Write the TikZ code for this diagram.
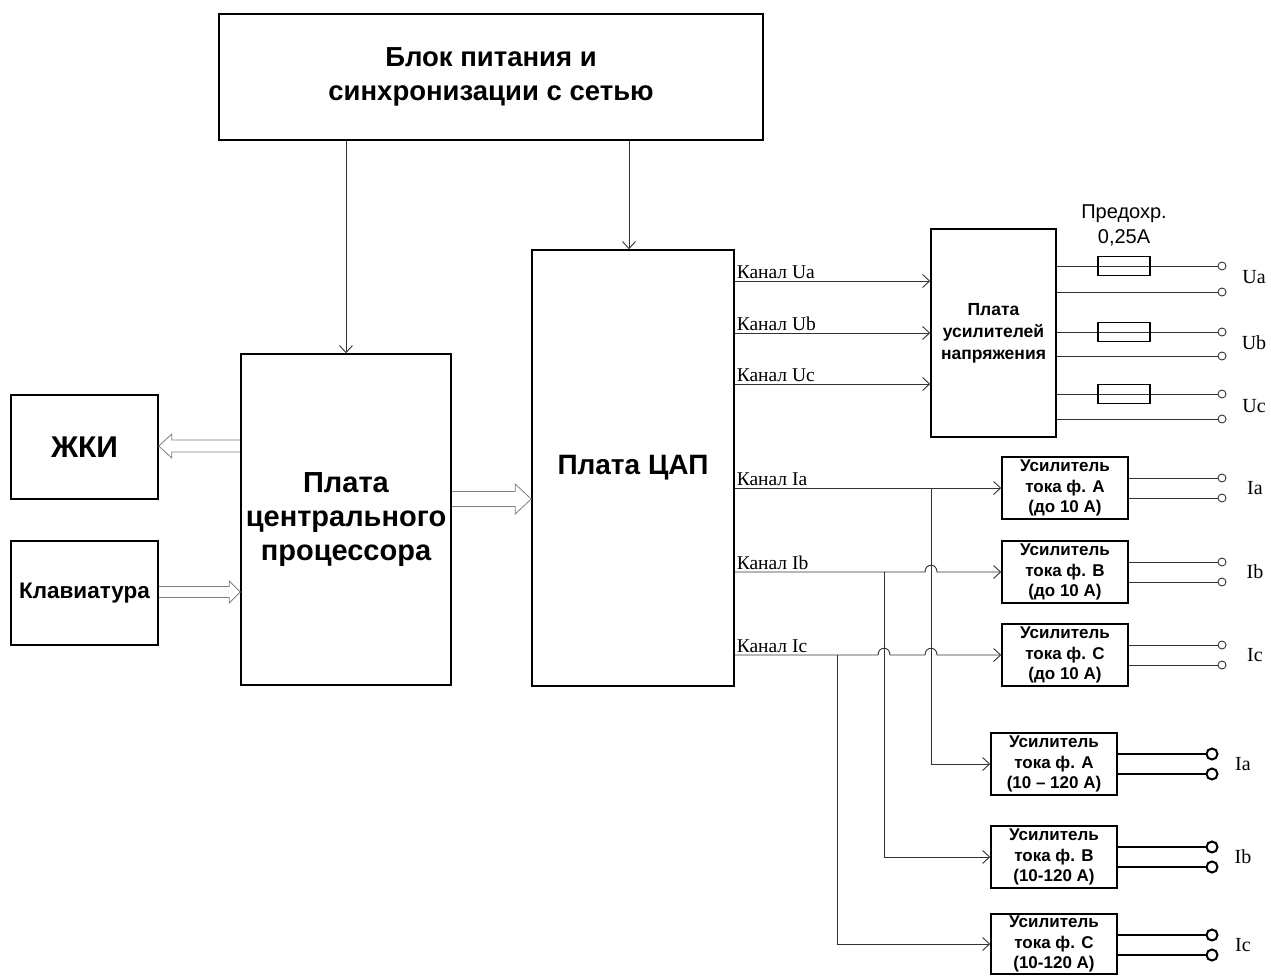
\documentclass[tikz,border=0pt]{standalone}
\usepackage{fontspec}
\setmainfont{Liberation Sans}
\newfontfamily\serfont{Liberation Serif}
\usetikzlibrary{arrows.meta,calc}
% hollow (double) arrow from #1 to #2; #3 shaft half width, #4 head half width, #5 head length
\newcommand\harrow[5]{%
  \draw[hol] let \p1=(#1), \p2=(#2), \p3=($(#2)!#5!(#1)$) in
    (\x1,\y1+#3) -- (\x3,\y1+#3) -- (\x3,\y1+#4) -- (\x2,\y1) --
    (\x3,\y1-#4) -- (\x3,\y1-#3) -- (\x1,\y1-#3);}
\begin{document}
\begin{tikzpicture}[x=1pt,y=-1pt,
  box/.style={draw, line width=1.6pt, inner sep=0pt, align=center},
  conn/.style={draw=black!80, line width=0.9pt},
  arr/.style={conn, -{Straight Barb[length=7pt,width=13pt,line width=0.9pt]}},
  hol/.style={draw=black!50, line width=0.8pt, line join=miter},
  term/.style={circle, draw=black!80, line width=0.9pt, fill=white, inner sep=0pt, minimum size=8pt},
  bterm/.style={circle, draw, line width=2pt, fill=white, inner sep=0pt, minimum size=11pt},
  fuse/.style={draw, line width=1.3pt, minimum width=52pt, minimum height=19pt, inner sep=0pt},
  chlab/.style={anchor=south west, inner sep=1.5pt, font=\serfont\fontsize{19.5}{21}\selectfont},
  outlab/.style={font=\serfont\fontsize{20}{22}\selectfont},
  amptext/.style={font=\fontsize{17}{20.5}\selectfont\bfseries}
]
\useasboundingbox (0,0) rectangle (1271,976);
\fill[white] (0,0) rectangle (1271,976);

% main boxes
\node[box, minimum width=544pt, minimum height=126pt, font=\fontsize{27.5}{34}\selectfont\bfseries] (pw) at (491,77) {Блок питания и\\синхронизации с сетью};
\node[box, minimum width=210pt, minimum height=331pt, font=\fontsize{29}{34}\selectfont\bfseries] (cpu) at (346,519.5) {Плата\\центрального\\процессора};
\node[box, minimum width=147pt, minimum height=104pt, font=\fontsize{30}{33}\selectfont\bfseries] (lcd) at (84.5,447) {ЖКИ};
\node[box, minimum width=147pt, minimum height=104pt, font=\fontsize{22.5}{24}\selectfont\bfseries] (kb) at (84.5,593) {Клавиатура};
\node[box, minimum width=202pt, minimum height=436pt, font=\fontsize{28}{33}\selectfont\bfseries] (dac) at (633,468) {Плата ЦАП};
\node[box, minimum width=125pt, minimum height=208pt, font=\fontsize{17.5}{22}\selectfont\bfseries] (vamp) at (993.5,333) {Плата\\усилителей\\напряжения};

% current amplifiers
\node[box, minimum width=126pt, minimum height=62pt, amptext] (a1) at (1065,488) {Усилитель\\тока ф. А\\(до 10 А)};
\node[box, minimum width=126pt, minimum height=62pt, amptext] (a2) at (1065,572) {Усилитель\\тока ф. В\\(до 10 А)};
\node[box, minimum width=126pt, minimum height=62pt, amptext] (a3) at (1065,655) {Усилитель\\тока ф. С\\(до 10 А)};
\node[box, minimum width=126pt, minimum height=62pt, amptext] (b1) at (1054,764) {Усилитель\\тока ф. А\\(10 – 120 А)};
\node[box, minimum width=126pt, minimum height=62pt, amptext] (b2) at (1054,857) {Усилитель\\тока ф. В\\(10-120 А)};
\node[box, minimum width=126pt, minimum height=60pt, amptext] (b3) at (1054,944) {Усилитель\\тока ф. С\\(10-120 А)};

% power arrows
\draw[arr] (pw.south -| cpu.north) -- (cpu.north);
\coordinate (pd) at (629,0);
\draw[arr] (pw.south -| pd) -- (dac.north -| pd);

% hollow arrows
\coordinate (cl) at (0,446);
\coordinate (ck) at (0,592);
\coordinate (cd) at (0,499);
\harrow{cpu.west |- cl}{lcd.east |- cl}{6pt}{12pt}{13pt}
\harrow{kb.east |- ck}{cpu.west |- ck}{5.5pt}{11pt}{11pt}
\harrow{cpu.east |- cd}{dac.west |- cd}{7.5pt}{15pt}{16pt}

% voltage channels
\coordinate (cUa) at (0,281);
\coordinate (cUb) at (0,333);
\coordinate (cUc) at (0,384);
\draw[arr] (dac.east |- cUa) node[chlab]{Канал Ua} -- (vamp.west |- cUa);
\draw[arr] (dac.east |- cUb) node[chlab]{Канал Ub} -- (vamp.west |- cUb);
\draw[arr] (dac.east |- cUc) node[chlab]{Канал Uc} -- (vamp.west |- cUc);

% current channels
\coordinate (jA) at (931,0);
\coordinate (jB) at (884,0);
\coordinate (jC) at (837,0);
\draw[arr] (a1.west -| dac.east) node[chlab]{Канал Ia} -- (a1.west);
\draw[arr] (a2.west -| dac.east) node[chlab]{Канал Ib} -- (925,572) .. controls (925,563) and (937,563) .. (937,572) -- (a2.west);
\draw[arr] (a3.west -| dac.east) node[chlab]{Канал Ic} -- (878,655) .. controls (878,646) and (890,646) .. (890,655) -- (925,655) .. controls (925,646) and (937,646) .. (937,655) -- (a3.west);
\draw[arr] (a1.west -| jA) -- (b1.west -| jA) -- (b1.west);
\draw[arr] (a2.west -| jB) -- (b2.west -| jB) -- (b2.west);
\draw[arr] (a3.west -| jC) -- (b3.west -| jC) -- (b3.west);

% voltage outputs
\node[term] (ua1) at (1222,266) {};
\node[term] (ua2) at (1222,292) {};
\node[term] (ub1) at (1222,332) {};
\node[term] (ub2) at (1222,356) {};
\node[term] (uc1) at (1222,394) {};
\node[term] (uc2) at (1222,419) {};
\foreach \t in {ua1,ua2,ub1,ub2,uc1,uc2} \draw[conn] (vamp.east |- \t) -- (\t);
\node[fuse] (f1) at (1124,266) {};
\node[fuse] (f2) at (1124,332) {};
\node[fuse] (f3) at (1124,394) {};
\node[align=center, font=\fontsize{20}{25}\selectfont] (fl) at (1124,225) {Предохр.\\0,25А};
\node[outlab] (lUa) at (1254,277) {Ua};
\node[outlab] (lUb) at (1254,343) {Ub};
\node[outlab] (lUc) at (1254,406) {Uc};

% current outputs (up to 10 A)
\node[term] (ia1) at (1222,478) {};
\node[term] (ia2) at (1222,498) {};
\node[term] (ib1) at (1222,562) {};
\node[term] (ib2) at (1222,582) {};
\node[term] (ic1) at (1222,645) {};
\node[term] (ic2) at (1222,665) {};
\draw[conn] (a1.east |- ia1) -- (ia1);
\draw[conn] (a1.east |- ia2) -- (ia2);
\draw[conn] (a2.east |- ib1) -- (ib1);
\draw[conn] (a2.east |- ib2) -- (ib2);
\draw[conn] (a3.east |- ic1) -- (ic1);
\draw[conn] (a3.east |- ic2) -- (ic2);
\node[outlab] (lIa) at (1255,488) {Ia};
\node[outlab] (lIb) at (1255,572) {Ib};
\node[outlab] (lIc) at (1255,655) {Ic};

% current outputs (10-120 A)
\node[bterm] (ja1) at (1212,754) {};
\node[bterm] (ja2) at (1212,774) {};
\node[bterm] (jb1) at (1212,847) {};
\node[bterm] (jb2) at (1212,867) {};
\node[bterm] (jc1) at (1212,935) {};
\node[bterm] (jc2) at (1212,955) {};
\draw[line width=2.2pt] (b1.east |- ja1) -- (ja1);
\draw[line width=2.2pt] (b1.east |- ja2) -- (ja2);
\draw[line width=2.2pt] (b2.east |- jb1) -- (jb1);
\draw[line width=2.2pt] (b2.east |- jb2) -- (jb2);
\draw[line width=2.2pt] (b3.east |- jc1) -- (jc1);
\draw[line width=2.2pt] (b3.east |- jc2) -- (jc2);
\node[outlab] (lJa) at (1243,764) {Ia};
\node[outlab] (lJb) at (1243,857) {Ib};
\node[outlab] (lJc) at (1243,945) {Ic};
\end{tikzpicture}
\end{document}
